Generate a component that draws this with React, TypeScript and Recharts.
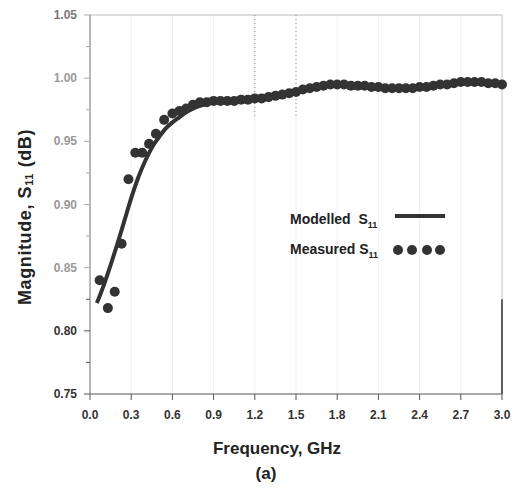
import { ComposedChart, Line, Scatter, XAxis, YAxis, CartesianGrid, ReferenceLine, Label } from "recharts";

// modelled S11 (solid curve)
const modelFreq = [0.05, 0.1, 0.15, 0.2, 0.25, 0.3, 0.35, 0.4, 0.45, 0.5, 0.55, 0.6, 0.65, 0.7, 0.8, 0.9, 1.0, 1.1, 1.2, 1.3, 1.4, 1.5, 1.6, 1.7, 1.8, 1.9, 2.0, 2.1, 2.2, 2.3, 2.4, 2.5, 2.6, 2.7, 2.8, 2.9, 3.0];
const modelMag = [0.822, 0.836, 0.852, 0.869, 0.887, 0.905, 0.921, 0.934, 0.945, 0.953, 0.96, 0.965, 0.969, 0.973, 0.978, 0.981, 0.982, 0.983, 0.984, 0.985, 0.987, 0.99, 0.992, 0.994, 0.995, 0.994, 0.994, 0.993, 0.992, 0.992, 0.993, 0.994, 0.995, 0.997, 0.997, 0.996, 0.995];

// measured S11 (dots)
const measFreq = [0.07, 0.13, 0.18, 0.23, 0.28, 0.33, 0.38, 0.43, 0.48, 0.54, 0.6, 0.65, 0.7, 0.75, 0.8, 0.85, 0.9, 0.95, 1.0, 1.05, 1.1, 1.15, 1.2, 1.25, 1.3, 1.35, 1.4, 1.45, 1.5, 1.55, 1.6, 1.65, 1.7, 1.75, 1.8, 1.85, 1.9, 1.95, 2.0, 2.05, 2.1, 2.15, 2.2, 2.25, 2.3, 2.35, 2.4, 2.45, 2.5, 2.55, 2.6, 2.65, 2.7, 2.75, 2.8, 2.85, 2.9, 2.95, 3.0];
const measMag = [0.84, 0.818, 0.831, 0.869, 0.92, 0.941, 0.941, 0.948, 0.956, 0.967, 0.972, 0.974, 0.976, 0.979, 0.981, 0.981, 0.982, 0.982, 0.982, 0.982, 0.983, 0.983, 0.984, 0.984, 0.985, 0.986, 0.987, 0.988, 0.989, 0.991, 0.992, 0.993, 0.994, 0.995, 0.995, 0.995, 0.994, 0.994, 0.994, 0.993, 0.993, 0.992, 0.992, 0.992, 0.992, 0.992, 0.993, 0.993, 0.994, 0.995, 0.995, 0.996, 0.997, 0.997, 0.997, 0.997, 0.996, 0.996, 0.995];

const xTicks = [0, 0.15, 0.3, 0.45, 0.6, 0.75, 0.9, 1.05, 1.2, 1.35, 1.5, 1.65, 1.8, 1.95, 2.1, 2.25, 2.4, 2.55, 2.7, 2.85, 3.0];
const yTicks = [0.75, 0.775, 0.8, 0.825, 0.85, 0.875, 0.9, 0.925, 0.95, 0.975, 1.0, 1.025, 1.05];

const modelData = modelFreq.map((f, i) => ({ f, mag: modelMag[i] }));
const measData = measFreq.map((f, i) => ({ f, mag: measMag[i] }));

const font = "'Liberation Sans', Arial, sans-serif";
const ink = "#333";

const isMultiple = (v: number, step: number) => Math.abs(v / step - Math.round(v / step)) < 1e-6;

function XTick(props: any) {
  const { x, y, payload } = props;
  const major = isMultiple(payload.value, 0.3);
  return (
    <g>
      <line x1={x} x2={x} y1={y} y2={y + (major ? 6 : 4)} stroke="#555" />
      {major && (
        <text x={x} y={y + 25} textAnchor="middle" fontFamily={font} fontWeight="bold" fontSize={12} fill={ink}>
          {payload.value.toFixed(1)}
        </text>
      )}
    </g>
  );
}

function YTick(props: any) {
  const { x, y, payload } = props;
  const v = payload.value;
  const major = isMultiple(v, 0.05);
  const fill = v > 0.83 ? (v > 1.04 ? "#777" : "#999") : ink;
  return (
    <g>
      <line x1={x} x2={x - (major ? 6 : 4)} y1={y} y2={y} stroke={v > 0.83 ? "#aaa" : "#555"} />
      {major && (
        <text x={x - 13} y={y + 4} textAnchor="end" fontFamily={font} fontWeight="bold" fontSize={12} fill={fill}>
          {v.toFixed(2)}
        </text>
      )}
    </g>
  );
}

function Legend() {
  return (
    <div style={{ position: "absolute", left: 290, top: 205, fontFamily: font, fontWeight: "bold", fontSize: 14, color: "#222" }}>
      <div style={{ display: "flex", alignItems: "center", height: 30 }}>
        <span style={{ width: 100 }}>
          Modelled&nbsp; S<sub style={{ fontSize: 9 }}>11</sub>
        </span>
        <svg width={56} height={20}>
          <line x1={5} x2={55} y1={6} y2={6} stroke={ink} strokeWidth={4} />
        </svg>
      </div>
      <div style={{ display: "flex", alignItems: "center", height: 30 }}>
        <span style={{ width: 102 }}>
          Measured S<sub style={{ fontSize: 9 }}>11</sub>
        </span>
        <svg width={60} height={14}>
          {[6, 20, 35, 48].map((cx) => (
            <circle key={cx} cx={cx} cy={7} r={5} fill={ink} />
          ))}
        </svg>
      </div>
    </div>
  );
}

export default function App() {
  return (
    <div style={{ position: "absolute", left: 0, top: 0, width: 514, height: 490, background: "#fff" }}>
      <ComposedChart width={514} height={490} margin={{ top: 15, right: 12, bottom: 0, left: 0 }}>
        <CartesianGrid stroke="#f1f1f1" horizontal={false} verticalPoints={undefined} />
        <XAxis
          type="number"
          dataKey="f"
          domain={[0, 3]}
          ticks={xTicks}
          height={96}
          tickSize={0}
          tickMargin={0}
          tickLine={false}
          tick={<XTick />}
          stroke="#555"
          allowDuplicatedCategory={false}
        >
          <Label
            content={() => (
              <g fontFamily={font} fontWeight="bold" fill="#222">
                <text x={277} y={454} textAnchor="middle" fontSize={17}>
                  Frequency, GHz
                </text>
                <text x={266} y={479} textAnchor="middle" fontSize={17}>
                  (a)
                </text>
              </g>
            )}
          />
        </XAxis>
        <YAxis
          type="number"
          domain={[0.75, 1.05]}
          ticks={yTicks}
          width={90}
          tickSize={0}
          tickMargin={0}
          tickLine={false}
          tick={<YTick />}
          stroke="#777"
        >
          <Label
            content={() => (
              <text
                x={25}
                y={217}
                transform="rotate(-90 25 217)"
                textAnchor="middle"
                dominantBaseline="central"
                fontFamily={font}
                fontWeight="bold"
                fontSize={18}
                letterSpacing={0.6}
                fill="#222"
              >
                Magnitude, S<tspan fontSize={11} dy={4}>11</tspan>
                <tspan dy={-4}> (dB)</tspan>
              </text>
            )}
          />
        </YAxis>
        <ReferenceLine y={1.05} stroke="#bbb" />
        <ReferenceLine x={3} stroke="#ccc" />
        <ReferenceLine segment={[{ x: 3, y: 0.75 }, { x: 3, y: 0.825 }]} stroke="#333" strokeWidth={1.5} />
        <ReferenceLine segment={[{ x: 1.2, y: 1.05 }, { x: 1.2, y: 0.97 }]} stroke="#888" strokeDasharray="1 3" />
        <ReferenceLine segment={[{ x: 1.5, y: 1.05 }, { x: 1.5, y: 0.97 }]} stroke="#888" strokeDasharray="1 3" />
        <Line data={modelData} dataKey="mag" type="monotone" stroke={ink} strokeWidth={4} dot={false} isAnimationActive={false} />
        <Scatter data={measData} dataKey="mag" fill={ink} shape={(p: any) => <circle cx={p.cx} cy={p.cy} r={5} fill={ink} />} isAnimationActive={false} />
      </ComposedChart>
      <Legend />
    </div>
  );
}
